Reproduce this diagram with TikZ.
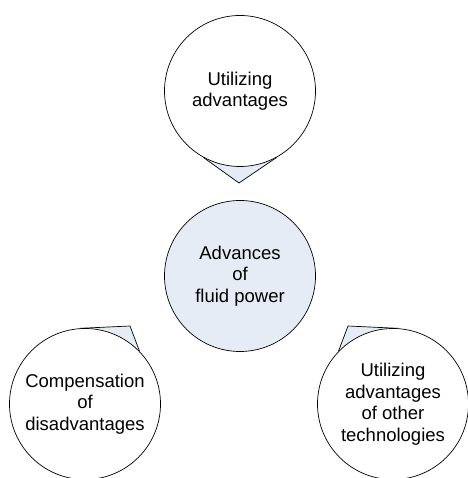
\documentclass[tikz,border=0pt]{standalone}
\usepackage{fontspec}
\setmainfont{Liberation Sans}
\usetikzlibrary{backgrounds}
\definecolor{paleblue}{RGB}{230,236,246}

\begin{document}
\begin{tikzpicture}[x=1pt, y=1pt,
  bubble/.style={draw, circle, fill=white, minimum size=151pt, inner sep=0pt,
    align=center, font=\fontsize{18.5}{21.5}\selectfont, line width=0.7pt},
  tail/.style={draw, fill=paleblue, line width=0.7pt}]
  \useasboundingbox (0,0) rectangle (467,478);

  \node[bubble] (use) at (240,387) {Utilizing\\advantages};
  \node[bubble, fill=paleblue] (fluid) at (240,202) {Advances\\of\\fluid power};
  \node[bubble] (comp) at (85,74) {Compensation\\of\\disadvantages};
  \node[bubble] (other) at (393,74) {Utilizing\\advantages\\of other\\technologies};

  \coordinate (usetip) at (239,295);
  \coordinate (comptip) at (130,152);
  \coordinate (othertip) at (348,152);

  \begin{pgfonlayer}{background}
    \draw[tail] (use.241) -- (usetip) -- (use.299);
    \draw[tail] (comp.94) -- (comptip) -- (comp.44);
    \draw[tail] (other.86) -- (othertip) -- (other.136);
  \end{pgfonlayer}
\end{tikzpicture}
\end{document}
